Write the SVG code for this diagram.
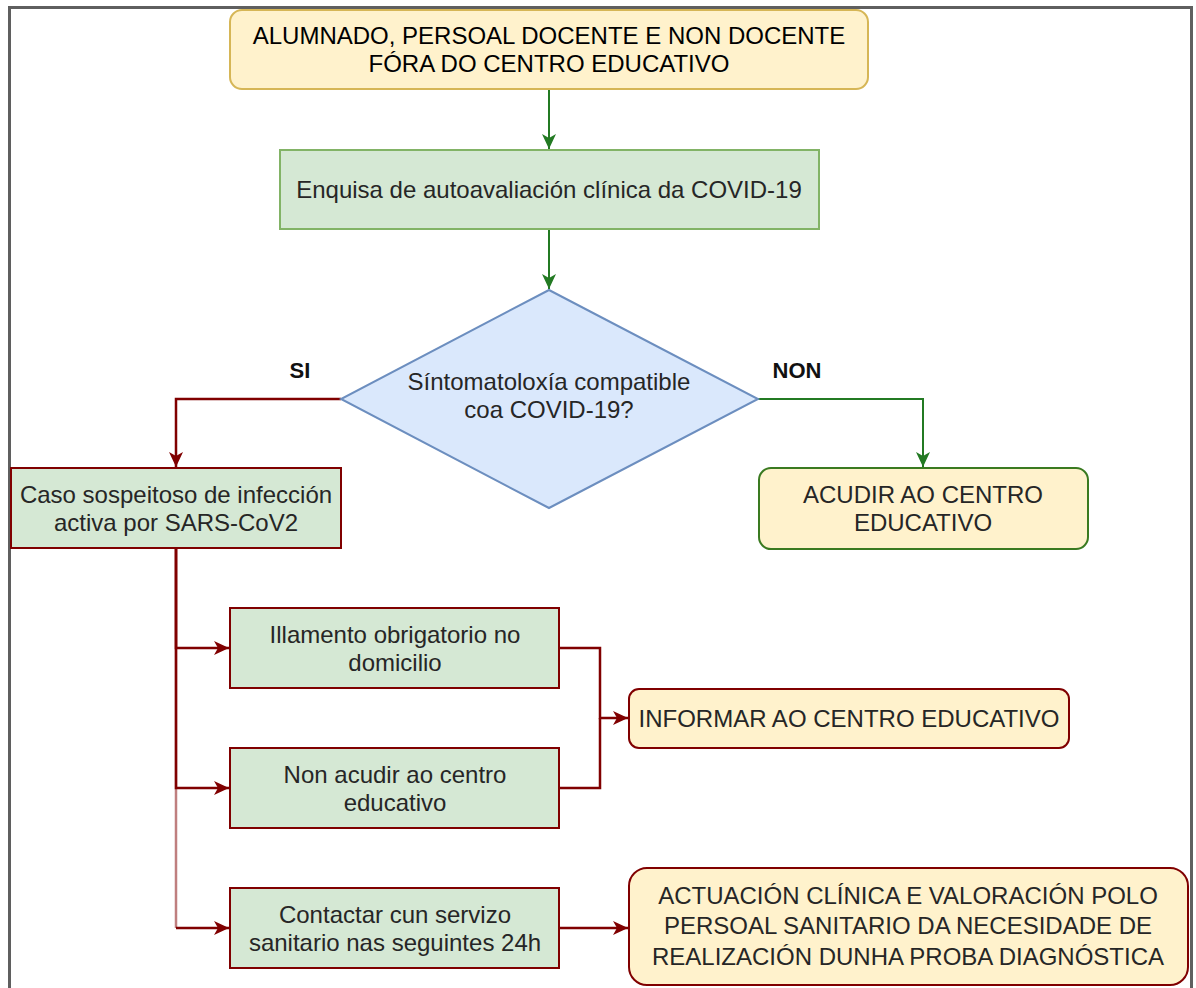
<svg xmlns="http://www.w3.org/2000/svg" width="1196" height="988" viewBox="0 0 1196 988">
<defs>
<style>
text{font-family:"Liberation Sans",Arial,sans-serif;font-size:24px;fill:#262626;text-anchor:middle}
.hd{fill:#000}
.lbl{font-weight:bold;font-size:22px;fill:#111}
.green{fill:#d5e8d4}
.yellow{fill:#fff2cc}
.cg{fill:none;stroke:#237a23;stroke-width:2}
.cr{fill:none;stroke:#800000;stroke-width:2.5}
</style>
<marker id="ag" markerUnits="userSpaceOnUse" markerWidth="16" markerHeight="16" viewBox="0 0 16 16" refX="15" refY="8" orient="auto"><path d="M0,1 L15,8 L0,15 L4,8 z" fill="#237a23"/></marker>
<marker id="ar" markerUnits="userSpaceOnUse" markerWidth="16" markerHeight="16" viewBox="0 0 16 16" refX="15" refY="8" orient="auto"><path d="M0,1 L15,8 L0,15 L4,8 z" fill="#800000"/></marker>
</defs>
<rect width="1196" height="988" fill="#fff"/>
<rect id="frame" x="9.5" y="7.5" width="1182" height="1000" fill="none" stroke="#5f5f5f" stroke-width="3"/>

<g id="connectors">
<path class="cg" d="M549,89 V149" marker-end="url(#ag)"/>
<path class="cg" d="M549,229 V289" marker-end="url(#ag)"/>
<path class="cr" d="M341,399 H176 V467" marker-end="url(#ar)"/>
<path class="cg" d="M758,399 H923 V467" marker-end="url(#ag)"/>
<path class="cr" d="M176,548 V648 H229" marker-end="url(#ar)"/>
<path class="cr" d="M176,548 V788 H229" marker-end="url(#ar)"/>
<g id="e-caso-contactar">
<path class="cr" d="M176,548 V928" stroke-opacity="0.5"/>
<path class="cr" d="M176,928 H229" marker-end="url(#ar)"/>
</g>
<path class="cr" d="M559,648 H600 V718 H628" marker-end="url(#ar)"/>
<path class="cr" d="M559,788 H600 V718"/>
<path class="cr" d="M559,928 H628" marker-end="url(#ar)"/>
</g>

<g id="n-start">
<rect class="yellow" x="230" y="10" width="638" height="79" rx="12" stroke="#d6b656" stroke-width="2"/>
<text class="hd" x="549" y="44">ALUMNADO, PERSOAL DOCENTE E NON DOCENTE</text>
<text class="hd" x="549" y="72">FÓRA DO CENTRO EDUCATIVO</text>
</g>
<g id="n-enquisa">
<rect class="green" x="280" y="150" width="539" height="79" stroke="#82b366" stroke-width="2"/>
<text x="549" y="198">Enquisa de autoavaliación clínica da COVID-19</text>
</g>
<g id="n-decision">
<polygon points="549,290 758,399 549,508 341,399" fill="#dae8fc" stroke="#6c8ebf" stroke-width="2"/>
<text x="549" y="390">Síntomatoloxía compatible</text>
<text x="549" y="418">coa COVID-19?</text>
</g>
<g id="l-si"><text class="lbl" x="300" y="378">SI</text></g>
<g id="l-non"><text class="lbl" x="797" y="378">NON</text></g>
<g id="n-caso">
<rect class="green" x="11" y="468" width="330" height="80" stroke="#800000" stroke-width="2"/>
<text x="176" y="503">Caso sospeitoso de infección</text>
<text x="176" y="531">activa por SARS-CoV2</text>
</g>
<g id="n-acudir">
<rect class="yellow" x="759" y="468" width="329" height="81" rx="12" stroke="#3a7a20" stroke-width="2"/>
<text x="923" y="503">ACUDIR AO CENTRO</text>
<text x="923" y="531">EDUCATIVO</text>
</g>
<g id="n-illamento">
<rect class="green" x="230" y="608" width="329" height="80" stroke="#800000" stroke-width="2"/>
<text x="395" y="643">Illamento obrigatorio no</text>
<text x="395" y="671">domicilio</text>
</g>
<g id="n-nonacudir">
<rect class="green" x="230" y="748" width="329" height="80" stroke="#800000" stroke-width="2"/>
<text x="395" y="783">Non acudir ao centro</text>
<text x="395" y="811">educativo</text>
</g>
<g id="n-informar">
<rect class="yellow" x="629" y="689" width="440" height="59" rx="10" stroke="#800000" stroke-width="2"/>
<text x="849" y="727">INFORMAR AO CENTRO EDUCATIVO</text>
</g>
<g id="n-contactar">
<rect class="green" x="230" y="888" width="329" height="80" stroke="#800000" stroke-width="2"/>
<text x="395" y="923">Contactar cun servizo</text>
<text x="395" y="951">sanitario nas seguintes 24h</text>
</g>
<g id="n-actuacion">
<rect class="yellow" x="629" y="868" width="559" height="117" rx="18" stroke="#800000" stroke-width="2"/>
<text x="908" y="904">ACTUACIÓN CLÍNICA E VALORACIÓN POLO</text>
<text x="908" y="934">PERSOAL SANITARIO DA NECESIDADE DE</text>
<text x="908" y="965">REALIZACIÓN DUNHA PROBA DIAGNÓSTICA</text>
</g>
</svg>
